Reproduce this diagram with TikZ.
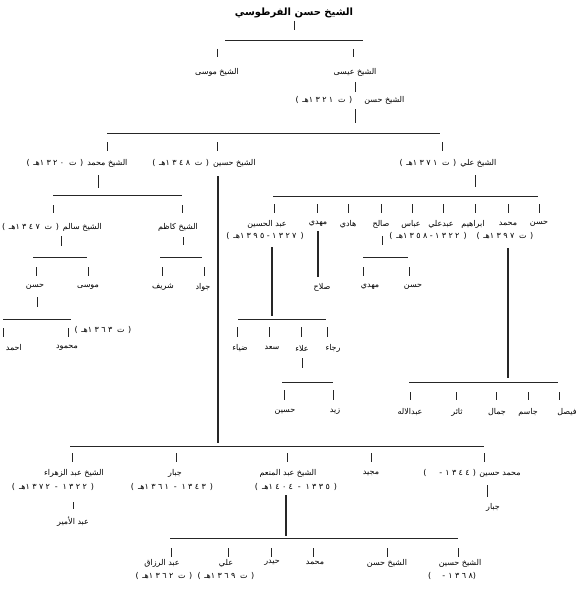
\documentclass[tikz,border=0pt]{standalone}
\usepackage{fontspec}
\newfontfamily\arabicfont[Script=Arabic]{DejaVu Sans}
\newfontfamily\pfont{DejaVu Sans}
\TeXXeTstate=1
\newcommand\AR[1]{\beginR #1\endR}
\newcommand\LP{\hbox{\pfont(}}
\newcommand\RP{\hbox{\pfont)}}
\newcommand\HY{\hbox{\pfont-}}
\def\spd#1{\spdA#1\relax}
\def\spdA#1#2\relax{\hbox{#1}\ifx\relax#2\relax\else\kern0.3em\spdA#2\relax\fi}
\newcommand\dt[1]{\LP\kern.45em\hbox{هـ}\spd{#1}\hspace{.6em}\hbox{ت}\kern.45em\RP}
\newcommand\rg[2]{\LP\kern.5em\hbox{هـ}\spd{#2}\kern.3em\HY\kern.3em\spd{#1}\kern.5em\RP}
\newcommand\rgs[2]{\LP\kern.5em\hbox{هـ}\spd{#2}\hspace{.6em}\HY\hspace{.6em}\spd{#1}\kern.5em\RP}
\tikzset{
  lb/.style={inner sep=0pt, font=\fontsize{8}{10}\arabicfont},
  ttl/.style={inner sep=0pt, font=\fontsize{10}{12}\arabicfont\bfseries},
  ln/.style={line width=0.8pt, draw=black!85},
  med/.style={line width=1.6pt, draw=black!85},
  thk/.style={line width=2.6pt, draw=black!85}
}
\begin{document}
\begin{tikzpicture}[x=1pt,y=-1pt]
\useasboundingbox[fill=white] (0,0) rectangle (586,594);
% ---------- nodes ----------
\node[ttl] (root) at (294,13) {\AR{الشيخ حسن الفرطوسي}};
\node[lb] (musa) at (217,72) {\AR{الشيخ موسى}};
\node[lb] (isa) at (355,72) {\AR{الشيخ عيسى}};
\node[lb] (hasanA) at (350,100) {\dt{١٣٢١}\hspace{1.5em}\AR{الشيخ حسن}};
\node[lb] (muhA) at (77,163) {\dt{١٣٢٠}\hspace{.5em}\AR{الشيخ محمد}};
\node[lb] (husA) at (204,163) {\dt{١٣٤٨}\hspace{.5em}\AR{الشيخ حسين}};
\node[lb] (aliA) at (448,163) {\dt{١٣٧١}\hspace{.5em}\AR{الشيخ علي}};
\node[lb] (salim) at (52,227) {\dt{١٣٤٧}\hspace{.5em}\AR{الشيخ سالم}};
\node[lb] (kazim) at (178,227) {\AR{الشيخ كاظم}};
\node[lb] (abdhus) at (267,224) {\AR{عبد الحسين}};
\node[lb] (mahdiA) at (318,224) {مهدي};
\node[lb] (hadi) at (348,224) {هادي};
\node[lb] (salih) at (381,224) {صالح};
\node[lb] (abbas) at (411,224) {عباس};
\node[lb] (abdali) at (441,224) {عبدعلي};
\node[lb] (ibrahim) at (473,224) {ابراهيم};
\node[lb] (muhB) at (508,224) {محمد};
\node[lb] (hasanB) at (539,224) {حسن};
\node[lb] (dA) at (265,236) {\rg{١٣٢٧}{١٣٩٥}};
\node[lb] (dB) at (428,236) {\rg{١٣٢٢}{١٣٥٨}};
\node[lb] (dC) at (505,236) {\dt{١٣٩٧}};
\node[lb] (hasanC) at (35,287) {حسن};
\node[lb] (musaB) at (88,287) {موسى};
\node[lb] (sharif) at (163,287) {شريف};
\node[lb] (jawad) at (203,287) {جواد};
\node[lb] (salah) at (322,287) {صلاح};
\node[lb] (mahdiB) at (370,287) {مهدي};
\node[lb] (hasanD) at (413,287) {حسن};
\node[lb] (dD) at (103,330) {\dt{١٣٦٣}};
\node[lb,anchor=east] (ahmad) at (22,348) {احمد};
\node[lb] (mahmud) at (67,348) {محمود};
\node[lb] (diya) at (240,348) {ضياء};
\node[lb] (saad) at (272,348) {سعد};
\node[lb] (ala) at (302,348) {علاء};
\node[lb] (raja) at (333,348) {رجاء};
\node[lb] (husB) at (285,412) {حسين};
\node[lb] (zaid) at (335,412) {زيد};
\node[lb] (abdilah) at (410,412) {عبدالاله};
\node[lb] (thair) at (457,412) {ثائر};
\node[lb] (jamal) at (497,412) {جمال};
\node[lb] (jasim) at (528,412) {جاسم};
\node[lb] (faisal) at (567,412) {فيصل};
\node[lb] (zahra) at (74,473) {\AR{الشيخ عبد الزهراء}};
\node[lb] (jabbarA) at (175,473) {جبار};
\node[lb] (munim) at (288,473) {\AR{الشيخ عبد المنعم}};
\node[lb] (majid) at (371,473) {مجيد};
\node[lb] (muhhus) at (472,473) {\LP\hspace{1.6em}\HY\hspace{.4em}\spd{١٣٤٤}\kern.4em\RP\hspace{.4em}\AR{محمد حسين}};
\node[lb] (dE) at (53,487) {\rgs{١٣٢٢}{١٣٧٢}};
\node[lb] (dF) at (172,487) {\rgs{١٣٤٣}{١٣٦١}};
\node[lb] (dG) at (296,487) {\rgs{١٣٣٥}{١٤٠٤}};
\node[lb] (jabbarB) at (493,507) {جبار};
\node[lb] (amir) at (73,522) {\AR{عبد الأمير}};
\node[lb] (razzaq) at (162,563) {\AR{عبد الرزاق}};
\node[lb] (aliB) at (226,563) {علي};
\node[lb] (haidar) at (272,563) {حيدر};
\node[lb] (muhC) at (315,563) {محمد};
\node[lb] (hasanE) at (387,563) {\AR{الشيخ حسن}};
\node[lb] (husC) at (460,563) {\AR{الشيخ حسين}};
\node[lb] (dH) at (164,576) {\dt{١٣٦٢}};
\node[lb] (dI) at (226,576) {\dt{١٣٦٩}};
\node[lb] (dJ) at (452,576) {\LP\hspace{1.4em}\HY\hspace{.4em}\spd{١٣٦٨}\RP};
% ---------- lines ----------
\draw[ln] (294,21) -- (294,30);
\draw[ln] (225,40) -- (363,40);
\draw[ln] (217,49) -- (217,57);
\draw[ln] (353,49) -- (353,57);
\draw[ln] (355,82) -- (355,92);
\draw[ln] (355,109) -- (355,123);
\draw[ln] (107,133) -- (440,133);
\foreach \x in {107,217,442} \draw[ln] (\x,142) -- (\x,151);
\draw[ln] (98,175) -- (98,188);
\draw[ln] (53,195) -- (182,195);
\foreach \x in {53,182} \draw[ln] (\x,205) -- (\x,213);
\draw[thk] (218,176) -- (218,443);
\draw[ln] (475,175) -- (475,187);
\draw[ln] (273,196) -- (538,196);
\foreach \x in {274,317,348,381,412,443,475,508,539} \draw[ln] (\x,204) -- (\x,213);
\draw[ln] (61,236) -- (61,246);
\draw[ln] (33,257) -- (87,257);
\foreach \x in {36,88} \draw[ln] (\x,267) -- (\x,276);
\draw[ln] (183,237) -- (183,245);
\draw[ln] (160,257) -- (202,257);
\foreach \x in {162,204} \draw[ln] (\x,267) -- (\x,276);
\draw[ln] (37,297) -- (37,307);
\draw[ln] (3,319) -- (71,319);
\foreach \x in {3,68} \draw[ln] (\x,328) -- (\x,337);
\draw[med] (272,247) -- (272,316);
\draw[ln] (238,319) -- (326,319);
\foreach \x in {237,269,301,327} \draw[ln] (\x,327) -- (\x,337);
\draw[ln] (302,358) -- (302,368);
\draw[ln] (282,382) -- (333,382);
\foreach \x in {284,333} \draw[ln] (\x,390) -- (\x,400);
\draw[thk] (318,231) -- (318,277);
\draw[ln] (382,236) -- (382,245);
\draw[ln] (363,257) -- (408,257);
\foreach \x in {363,409} \draw[ln] (\x,267) -- (\x,276);
\draw[thk] (508,248) -- (508,378);
\draw[ln] (409,382) -- (558,382);
\foreach \x in {410,456,496,528,559} \draw[ln] (\x,392) -- (\x,400);
\draw[ln] (70,446) -- (484,446);
\foreach \x in {72,176,287,371,484} \draw[ln] (\x,453) -- (\x,462);
\draw[ln] (73,502) -- (73,509);
\draw[thk] (286,495) -- (286,536);
\draw[ln] (487,485) -- (487,497);
\draw[ln] (170,538) -- (458,538);
\foreach \x in {171,228,271,313,387,458} \draw[ln] (\x,548) -- (\x,557);
\end{tikzpicture}
\end{document}
